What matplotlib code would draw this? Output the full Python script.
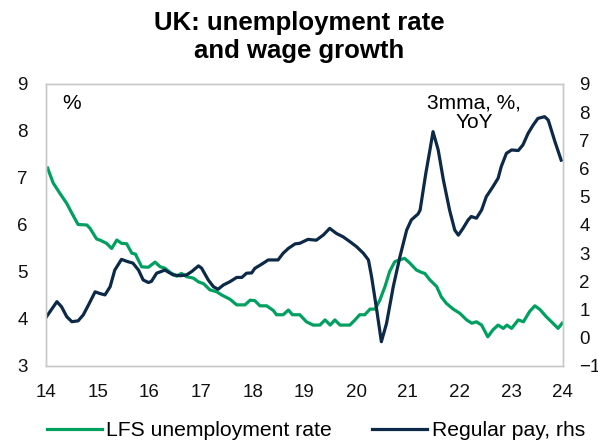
import matplotlib.pyplot as plt

plt.rcParams['font.family'] = ['Liberation Sans', 'DejaVu Sans']

# LFS unemployment rate, %, lhs (year as 14..24)
unemp_x = [14.03, 14.14, 14.27, 14.40, 14.50, 14.62, 14.79, 14.85, 14.98, 15.04, 15.17, 15.27,
           15.37, 15.46, 15.56, 15.66, 15.73, 15.85, 15.98, 16.11, 16.21, 16.30, 16.40, 16.53,
           16.62, 16.72, 16.85, 16.95, 17.05, 17.17, 17.30, 17.40, 17.56, 17.69, 17.85, 17.95,
           18.04, 18.14, 18.27, 18.40, 18.46, 18.59, 18.69, 18.77, 18.91, 19.04, 19.17, 19.30,
           19.40, 19.50, 19.59, 19.69, 19.88, 19.98, 20.07, 20.17, 20.27, 20.37, 20.46, 20.56,
           20.65, 20.75, 20.85, 20.94, 21.04, 21.17, 21.27, 21.33, 21.43, 21.56, 21.65, 21.75,
           21.88, 22.01, 22.14, 22.24, 22.33, 22.43, 22.55, 22.65, 22.75, 22.85, 22.92, 23.01,
           23.14, 23.24, 23.36, 23.46, 23.56, 23.68, 23.81, 23.91, 23.99]
unemp = [7.21, 6.89, 6.67, 6.46, 6.25, 6.01, 6.00, 5.93, 5.70, 5.68, 5.61, 5.50,
         5.68, 5.61, 5.60, 5.40, 5.38, 5.11, 5.10, 5.21, 5.11, 5.08, 4.99, 4.91,
         4.97, 4.90, 4.87, 4.79, 4.75, 4.62, 4.58, 4.51, 4.42, 4.30, 4.30, 4.40,
         4.39, 4.28, 4.28, 4.18, 4.09, 4.09, 4.19, 4.09, 4.09, 3.94, 3.87, 3.87,
         3.98, 3.87, 3.98, 3.87, 3.87, 3.98, 4.09, 4.09, 4.21, 4.21, 4.40, 4.69,
         5.01, 5.22, 5.26, 5.29, 5.19, 5.04, 4.99, 4.97, 4.83, 4.69, 4.47, 4.33,
         4.21, 4.12, 3.98, 3.91, 3.94, 3.87, 3.62, 3.77, 3.87, 3.80, 3.87, 3.80,
         3.98, 3.94, 4.16, 4.28, 4.20, 4.05, 3.91, 3.80, 3.91]

# Regular pay growth, 3mma % YoY, rhs
pay_x = [14.01, 14.21, 14.30, 14.40, 14.50, 14.62, 14.72, 14.82, 14.95, 15.04, 15.14, 15.24,
         15.33, 15.46, 15.58, 15.68, 15.79, 15.88, 15.98, 16.04, 16.14, 16.30, 16.46, 16.60,
         16.72, 16.82, 16.95, 17.01, 17.14, 17.24, 17.33, 17.43, 17.56, 17.69, 17.79, 17.88,
         17.98, 18.04, 18.20, 18.30, 18.49, 18.59, 18.69, 18.82, 18.91, 19.07, 19.23, 19.37,
         19.49, 19.62, 19.75, 19.88, 20.01, 20.14, 20.24, 20.30, 20.40, 20.49, 20.59, 20.72,
         20.85, 20.98, 21.07, 21.20, 21.24, 21.35, 21.43, 21.49, 21.59, 21.69, 21.81, 21.91,
         21.98, 22.07, 22.17, 22.23, 22.33, 22.43, 22.52, 22.65, 22.75, 22.81, 22.91, 23.01,
         23.14, 23.23, 23.33, 23.43, 23.52, 23.65, 23.72, 23.85, 23.97]
pay = [0.75, 1.28, 1.10, 0.75, 0.57, 0.60, 0.81, 1.16, 1.63, 1.57, 1.52, 1.81,
       2.40, 2.78, 2.70, 2.65, 2.40, 2.05, 1.96, 2.00, 2.29, 2.40, 2.23, 2.20,
       2.23, 2.35, 2.55, 2.47, 2.05, 1.81, 1.72, 1.87, 1.99, 2.14, 2.14, 2.29,
       2.30, 2.46, 2.64, 2.76, 2.76, 3.00, 3.17, 3.33, 3.35, 3.49, 3.46, 3.65,
       3.88, 3.70, 3.58, 3.41, 3.23, 3.00, 2.76, 2.17, 0.99, -0.14, 0.51, 1.81,
       2.88, 3.82, 4.18, 4.39, 4.53, 5.83, 6.66, 7.31, 6.66, 5.60, 4.53, 3.82,
       3.64, 3.88, 4.18, 4.30, 4.24, 4.53, 5.00, 5.36, 5.66, 6.07, 6.54, 6.66,
       6.64, 6.84, 7.25, 7.55, 7.78, 7.84, 7.72, 6.95, 6.30]

x_ticks = list(range(14, 25))
green = '#00A060'
navy = '#0C2A48'

fig = plt.figure(figsize=(5.98, 4.42), dpi=100)
ax = fig.add_axes([0.077, 0.172, 0.864, 0.638])
ax2 = ax.twinx()

l1, = ax.plot(unemp_x, unemp, color=green, lw=2.3, label='LFS unemployment rate')
l2, = ax2.plot(pay_x, pay, color=navy, lw=2.3, label='Regular pay, rhs')

ax.set_xlim(14, 24)
ax.set_ylim(3, 9)
ax2.set_ylim(-1, 9)
ax.set_xticks(x_ticks)
ax.set_xticklabels([str(t) for t in x_ticks])
ax.set_yticks(range(3, 10))
ax2.set_yticks(range(-1, 10))

for a in (ax, ax2):
    for s in a.spines.values():
        s.set_color('#c8c8c8')
        s.set_linewidth(1.0)
    a.tick_params(length=0, labelsize=13.5, colors='#111111')
ax.tick_params(axis='y', pad=13)
ax2.tick_params(axis='y', pad=12)
ax.tick_params(axis='x', pad=13)

ax.text(0.031, 0.93, '%', transform=ax.transAxes, fontsize=15, va='center', ha='left')
ax.text(0.828, 0.965, '3mma, %,\nYoY', transform=ax.transAxes, fontsize=15,
        va='top', ha='center', linespacing=1.0)

fig.suptitle('UK: unemployment rate\nand wage growth', fontsize=18.5, fontweight='bold',
             y=0.975, va='top', linespacing=1.2)

fig.legend(handles=[l1, l2], loc='center', bbox_to_anchor=(0.528, 0.025), ncol=2,
           frameon=False, fontsize=15.2, handlelength=2.6, handletextpad=0.22,
           columnspacing=1.9)

fig.savefig('out.png', dpi=100)
